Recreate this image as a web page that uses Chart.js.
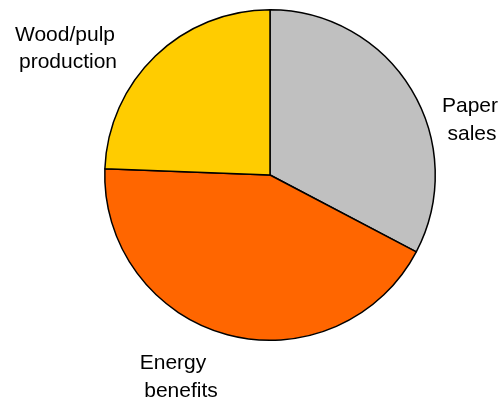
<!DOCTYPE html>
<html>
<head>
<meta charset="utf-8">
<script src="https://cdn.jsdelivr.net/npm/chart.js@4"></script>
<style>
  html, body { margin: 0; padding: 0; background: #fff; }
  #wrap { width: 500px; height: 403px; position: relative; }
</style>
</head>
<body>
<div id="wrap"><canvas id="pie"></canvas></div>
<script>
const categories = ["Paper sales", "Energy benefits", "Wood/pulp production"];
const shares = [32.7, 42.9, 24.4];
const sliceColors = ["#c0c0c0", "#ff6600", "#ffcc00"];

// label lines: text, centre x, baseline y
const labelLines = [
    ["Paper", 470, 112], ["sales", 472, 140],
    ["Energy", 173, 369], ["benefits", 181, 397],
    ["Wood/pulp", 65, 41], ["production", 68, 68]
];

const labelPlugin = {
    id: "sliceLabels",
    afterDraw(chart) {
        const ctx = chart.ctx;
        ctx.save();
        ctx.font = "21px 'Liberation Sans', Arial, sans-serif";
        ctx.fillStyle = "#000";
        ctx.textAlign = "center";
        ctx.textBaseline = "alphabetic";
        labelLines.forEach(([t, x, y]) => ctx.fillText(t, x, y));
        ctx.restore();
    }
};

new Chart(document.getElementById("pie"), {
    type: "pie",
    data: {
        labels: categories,
        datasets: [{
            data: shares,
            backgroundColor: sliceColors,
            borderColor: "#000",
            borderWidth: 1.5
        }]
    },
    options: {
        responsive: true,
        maintainAspectRatio: false,
        animation: false,
        layout: { padding: { left: 104, right: 64, top: 9, bottom: 62 } },
        plugins: {
            legend: { display: false },
            tooltip: { enabled: false }
        }
    },
    plugins: [labelPlugin]
});
</script>
</body>
</html>
